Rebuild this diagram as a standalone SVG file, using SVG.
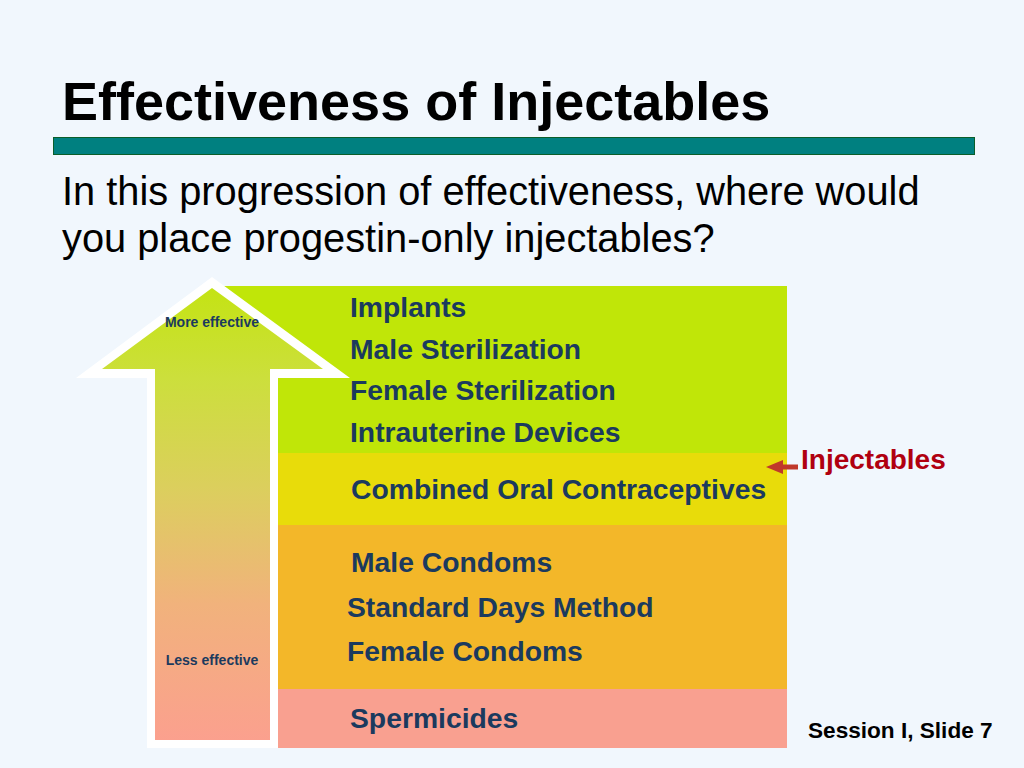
<svg xmlns="http://www.w3.org/2000/svg" width="1024" height="768" viewBox="0 0 1024 768">
<defs>
<linearGradient id="arrowGrad" x1="0" y1="288" x2="0" y2="740" gradientUnits="userSpaceOnUse">
<stop offset="0" stop-color="#C4E314"/>
<stop offset="0.2" stop-color="#CCDF3C"/>
<stop offset="0.45" stop-color="#DCCE5E"/>
<stop offset="0.7" stop-color="#F1B27C"/>
<stop offset="1" stop-color="#FBA08E"/>
</linearGradient>
<marker id="redHead" viewBox="0 0 17 14" refX="0" refY="7" markerWidth="17" markerHeight="14" orient="auto" markerUnits="userSpaceOnUse">
<path d="M0,0 L17,7 L0,14 z" fill="#C0392B"/>
</marker>
<style>
.title{font-family:"Liberation Sans",Arial,sans-serif;font-weight:bold;font-size:54px;fill:#000}
.sub{font-family:"Liberation Sans",Arial,sans-serif;font-size:39.8px;fill:#000}
.item{font-family:"Liberation Sans",Arial,sans-serif;font-weight:bold;font-size:28.3px;fill:#1B3A5E}
.small{font-family:"Liberation Sans",Arial,sans-serif;font-weight:bold;font-size:14px;fill:#1B3A5E;text-anchor:middle}
.inj{font-family:"Liberation Sans",Arial,sans-serif;font-weight:bold;font-size:28px;fill:#B00010}
.foot{font-family:"Liberation Sans",Arial,sans-serif;font-weight:bold;font-size:22.6px;fill:#000}
</style>
</defs>
<rect x="0" y="0" width="1024" height="768" fill="#F1F7FD"/>
<text class="title" x="62" y="120">Effectiveness of Injectables</text>
<rect x="53.5" y="137.5" width="921" height="17" fill="#008080" stroke="#0B5E2A" stroke-width="1"/>
<text class="sub" x="62" y="205">In this progression of effectiveness, where would</text>
<text class="sub" x="62" y="252">you place progestin-only injectables?</text>

<g id="band-green">
<rect x="220" y="286" width="567" height="167" fill="#C0E608"/>
</g>
<g id="band-yellow">
<rect x="220" y="453" width="567" height="72" fill="#E8DC0A"/>
</g>
<g id="band-orange">
<rect x="220" y="525" width="567" height="164" fill="#F3B729"/>
</g>
<g id="band-salmon">
<rect x="220" y="689" width="567" height="59" fill="#F9A090"/>
</g>

<g id="effectiveness-arrow">
<polygon points="212,277 350,378 278,378 278,748 147,748 147,378 76,378" fill="#FFFFFF"/>
<polygon points="212,288 323,369 270,369 270,740 155,740 155,369 102,369" fill="url(#arrowGrad)"/>
<text class="small" x="212" y="327">More effective</text>
<text class="small" x="212" y="665">Less effective</text>
</g>

<g id="labels">
<text class="item" x="350" y="317">Implants</text>
<text class="item" x="350" y="359">Male Sterilization</text>
<text class="item" x="350" y="400">Female Sterilization</text>
<text class="item" x="350" y="442">Intrauterine Devices</text>
<text class="item" x="351" y="499">Combined Oral Contraceptives</text>
<text class="item" x="351" y="572">Male Condoms</text>
<text class="item" x="347" y="617">Standard Days Method</text>
<text class="item" x="347" y="661">Female Condoms</text>
<text class="item" x="350" y="728">Spermicides</text>
</g>

<g id="connectors">
<line x1="798" y1="467" x2="783" y2="467" stroke="#C0392B" stroke-width="5" marker-end="url(#redHead)"/>
</g>
<g id="injectables">
<text class="inj" x="801" y="469">Injectables</text>
</g>
<text class="foot" x="808" y="738">Session I, Slide 7</text>
</svg>
